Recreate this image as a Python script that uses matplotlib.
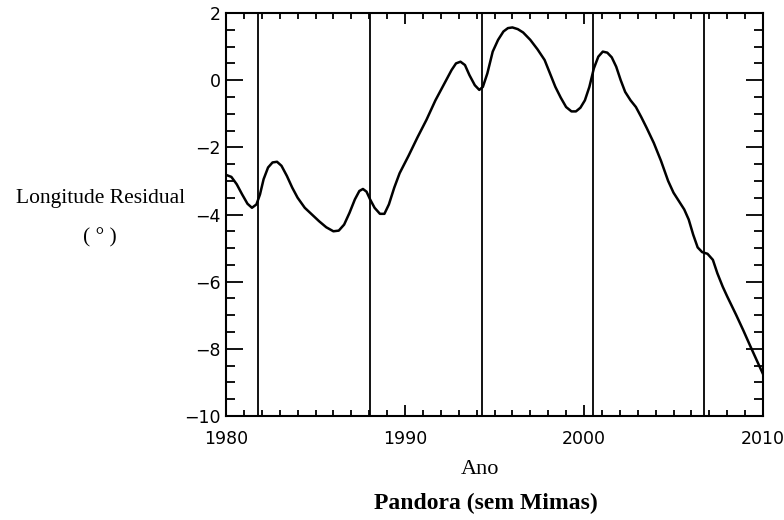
import numpy as np
import matplotlib.pyplot as plt
from matplotlib.ticker import MultipleLocator

# residual longitude curve
years = [1980.0, 1980.3, 1980.6, 1980.9, 1981.2, 1981.45, 1981.7, 1981.9, 1982.1,
         1982.35, 1982.6, 1982.85, 1983.1, 1983.4, 1983.7, 1984.0, 1984.4, 1984.8,
         1985.2, 1985.6, 1986.0, 1986.3, 1986.6, 1986.9, 1987.2, 1987.45, 1987.65,
         1987.85, 1988.05, 1988.3, 1988.6, 1988.85, 1989.1, 1989.4, 1989.7, 1990.2,
         1990.7, 1991.2, 1991.7, 1992.3, 1992.6, 1992.85, 1993.1, 1993.35, 1993.6,
         1993.9, 1994.15, 1994.35, 1994.6, 1994.9, 1995.2, 1995.5, 1995.75, 1996.0,
         1996.3, 1996.6, 1997.0, 1997.4, 1997.8, 1998.1, 1998.4, 1998.7, 1999.0,
         1999.3, 1999.55, 1999.8, 2000.05, 2000.3, 2000.55, 2000.8, 2001.05, 2001.3,
         2001.55, 2001.8, 2002.05, 2002.3, 2002.6, 2002.9, 2003.2, 2003.5, 2003.9,
         2004.3, 2004.7, 2005.0, 2005.3, 2005.6, 2005.85, 2006.1, 2006.35, 2006.6,
         2006.9, 2007.2, 2007.45, 2007.75, 2008.0, 2008.5, 2008.9, 2009.3, 2009.7,
         2010.0]
residual = [-2.82, -2.88, -3.1, -3.4, -3.68, -3.8, -3.7, -3.4, -2.95,
            -2.6, -2.45, -2.43, -2.55, -2.85, -3.2, -3.5, -3.8, -4.0,
            -4.2, -4.38, -4.5, -4.48, -4.3, -3.95, -3.55, -3.3, -3.24,
            -3.32, -3.55, -3.8, -3.98, -3.98, -3.7, -3.2, -2.77, -2.25,
            -1.7, -1.18, -0.6, 0.0, 0.3, 0.5, 0.55, 0.45, 0.15,
            -0.15, -0.29, -0.2, 0.2, 0.85, 1.2, 1.45, 1.55, 1.57,
            1.52, 1.42, 1.2, 0.92, 0.6, 0.2, -0.2, -0.52, -0.8,
            -0.93, -0.93, -0.82, -0.6, -0.2, 0.35, 0.7, 0.85, 0.82,
            0.68, 0.4, 0.0, -0.35, -0.6, -0.8, -1.1, -1.42, -1.87,
            -2.4, -3.0, -3.35, -3.6, -3.85, -4.15, -4.6, -4.98, -5.12,
            -5.17, -5.35, -5.75, -6.15, -6.44, -6.99, -7.45, -7.93, -8.4,
            -8.75]

# vertical marker lines
markers = [1981.8, 1988.05, 1994.3, 2000.5, 2006.7]

x_ticks = [1980, 1990, 2000, 2010]
y_ticks = [2, 0, -2, -4, -6, -8, -10]
y_labels = ['2', '0', '\u22122', '\u22124', '\u22126', '\u22128', '\u221210']

fig = plt.figure(figsize=(7.84, 5.2), dpi=100)
ax = fig.add_axes([226/784, 1 - 416/520, 537/784, 403/520])

ax.plot(years, residual, color='black', lw=1.8, solid_joinstyle='round')
for m in markers:
    ax.axvline(m, color='black', lw=1.3)

ax.set_xlim(1980, 2010)
ax.set_ylim(-10, 2)
ax.set_xticks(x_ticks)
ax.set_xticklabels([str(t) for t in x_ticks], family='DejaVu Sans', fontsize=12.5)
ax.set_yticks(y_ticks)
ax.set_yticklabels(y_labels, family='DejaVu Sans', fontsize=12.5)
ax.xaxis.set_minor_locator(MultipleLocator(1))
ax.yaxis.set_minor_locator(MultipleLocator(0.5))
ax.tick_params(which='both', direction='in', top=True, right=True, width=1.3)
ax.tick_params(axis='x', which='major', length=8, pad=10)
ax.tick_params(axis='x', which='minor', length=4.5)
ax.tick_params(axis='y', which='major', length=12, pad=4)
ax.tick_params(axis='y', which='minor', length=6.5)
for s in ax.spines.values():
    s.set_linewidth(1.5)

serif = 'Liberation Serif'
fig.text(101/784, 1 - 198/520, 'Longitude Residual', family=serif, fontsize=15.5,
         ha='center', va='center')
fig.text(100/784, 1 - 238/520, '( \u00b0 )', family=serif, fontsize=15.5,
         ha='center', va='center')
fig.text(480/784, 1 - 470/520, 'Ano', family=serif, fontsize=16,
         ha='center', va='center')
fig.text(486/784, 1 - 503/520, 'Pandora (sem Mimas)', family=serif, fontsize=17,
         fontweight='bold', ha='center', va='center')

fig.savefig('out.png', dpi=100)
